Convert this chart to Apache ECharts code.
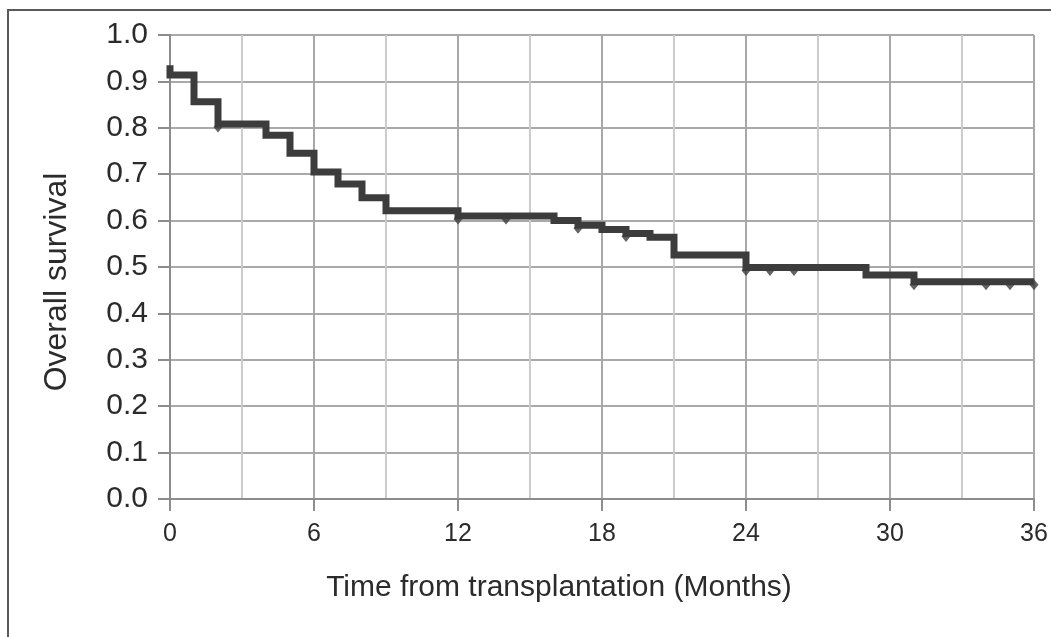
<!DOCTYPE html>
<html>
<head>
<meta charset="utf-8">
<script src="https://cdn.jsdelivr.net/npm/echarts@6/dist/echarts.min.js"></script>
<style>
  html, body { margin: 0; padding: 0; background: #fff; }
  #chart { width: 1051px; height: 637px; }
</style>
</head>
<body>
<div id="chart"></div>
<script>
// KM steps (months, survival after the drop)
const stepTimes = [0, 0, 1, 2, 4, 5, 6, 7, 8, 9, 12, 16, 17, 18, 19, 20, 21, 24, 29, 31, 36];
const stepSurv = [0.935, 0.914, 0.856, 0.808, 0.784, 0.745, 0.705, 0.679, 0.649, 0.621, 0.61, 0.60, 0.59, 0.581, 0.572, 0.564, 0.526, 0.499, 0.483, 0.468, 0.468];

// censored marks
const censorTimes = [2, 12, 14, 17, 19, 24, 25, 26, 31, 34, 35, 36];
const censorSurv = [0.808, 0.61, 0.61, 0.59, 0.572, 0.499, 0.499, 0.499, 0.468, 0.468, 0.468, 0.468];

const textColor = "#2b2b2b";
const gridColor = "#a9a9a9";
const font = "Liberation Sans";

const chart = echarts.init(document.getElementById("chart"));

chart.setOption({
  animation: false,
  grid: { left: 170, right: 17, top: 35, bottom: 138 },
  graphic: [
    {
      type: "rect",
      shape: { x: 8, y: 10, width: 1060, height: 650 },
      style: { fill: "none", stroke: "#5a5a5a", lineWidth: 2 },
      silent: true,
    },
  ],
  xAxis: {
    type: "value",
    min: 0,
    max: 36,
    interval: 6,
    name: "Time from transplantation (Months)",
    nameLocation: "middle",
    nameGap: 74,
    nameTextStyle: {
      fontSize: 30,
      color: textColor,
      fontFamily: font,
      padding: [0, 86, 0, 0], // title sits a bit left of the plot centre
    },
    axisLine: { show: true, lineStyle: { color: "#8c8c8c", width: 2 } },
    axisTick: { show: true, length: 12, lineStyle: { color: "#8c8c8c", width: 2 } },
    axisLabel: { fontSize: 25, color: textColor, fontFamily: font, margin: 23 },
    splitLine: { show: true, lineStyle: { color: gridColor, width: 2 } },
    minorTick: { show: false, splitNumber: 2 },
    minorSplitLine: { show: true, lineStyle: { color: "#cdcdcd", width: 2 } },
  },
  yAxis: {
    type: "value",
    min: 0,
    max: 1,
    interval: 0.1,
    name: "Overall survival",
    nameLocation: "middle",
    nameGap: 97,
    nameTextStyle: {
      fontSize: 32,
      color: textColor,
      fontFamily: font,
      padding: [0, 30, 0, 0],
    },
    axisLine: { show: true, lineStyle: { color: "#8c8c8c", width: 2 } },
    axisTick: { show: true, length: 12, lineStyle: { color: "#8c8c8c", width: 2 } },
    axisLabel: {
      fontSize: 30,
      color: textColor,
      fontFamily: font,
      margin: 22,
      formatter: (v) => v.toFixed(1),
    },
    splitLine: { show: true, lineStyle: { color: gridColor, width: 2 } },
  },
  series: [
    {
      type: "line",
      step: "end",
      data: stepTimes.map((t, i) => [t, stepSurv[i]]),
      showSymbol: false,
      lineStyle: { color: "#3c3c3c", width: 7, join: "miter" },
      z: 3,
    },
    {
      type: "scatter",
      data: censorTimes.map((t, i) => [t, censorSurv[i]]),
      symbol: "diamond",
      symbolSize: [9, 11],
      symbolOffset: [0, 3],
      itemStyle: { color: "#3c3c3c" },
      z: 4,
    },
  ],
});
</script>
</body>
</html>
